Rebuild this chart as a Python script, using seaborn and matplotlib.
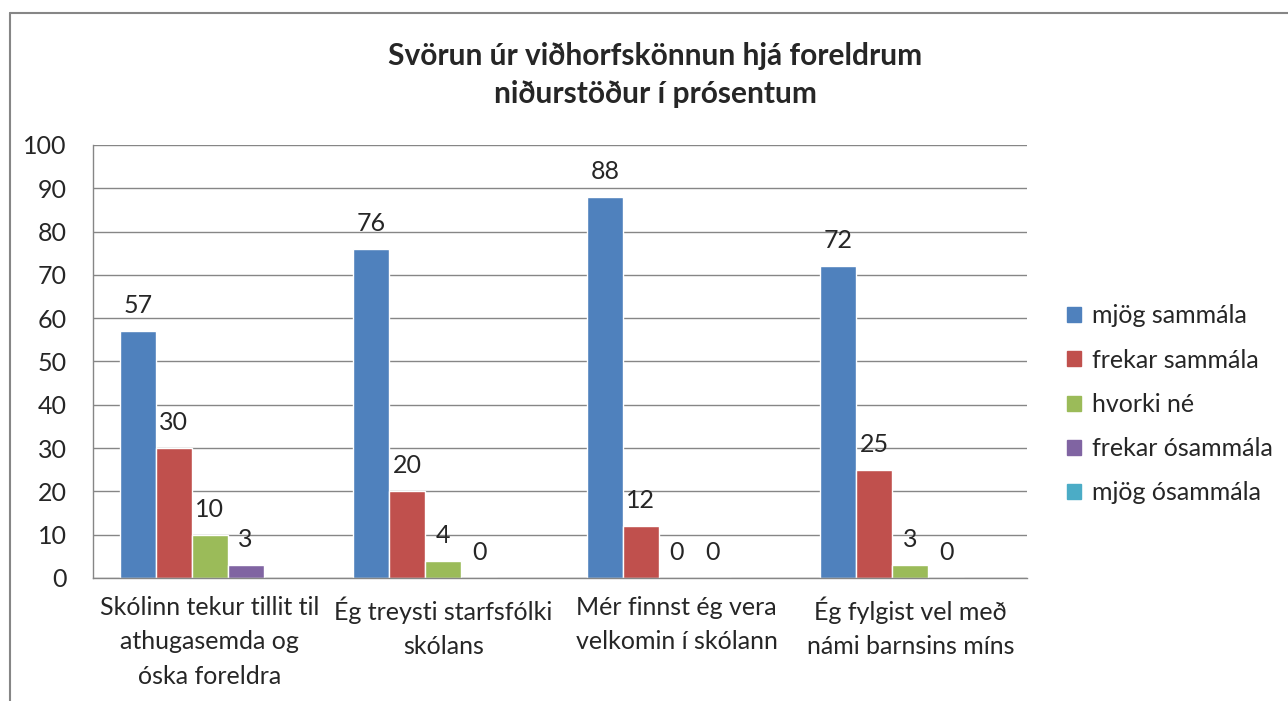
import matplotlib
matplotlib.use("Agg")
import matplotlib.pyplot as plt
import matplotlib.patches as mpatches
from matplotlib.lines import Line2D
import numpy as np
import pandas as pd
import seaborn as sns

categories = ["Skólinn tekur tillit til\nathugasemda og\nóska foreldra",
              "Ég treysti starfsfólki\nskólans",
              "Mér finnst ég vera\nvelkomin í skólann",
              "Ég fylgist vel með\nnámi barnsins míns"]
series = ["mjög sammála", "frekar sammála", "hvorki né",
          "frekar ósammála", "mjög ósammála"]
mjog_sammala = [57, 76, 88, 72]
frekar_sammala = [30, 20, 12, 25]
hvorki_ne = [10, 4, 0, 3]
frekar_osammala = [3, 0, 0, 0]
mjog_osammala = [np.nan, np.nan, np.nan, np.nan]
colors = ["#4F81BD", "#C0504D", "#9BBB59", "#8064A2", "#4BACC6"]
title = "Svörun úr viðhorfskönnun hjá foreldrum\nniðurstöður í prósentum"

values = [mjog_sammala, frekar_sammala, hvorki_ne, frekar_osammala, mjog_osammala]
rows = []
for s, vals in zip(series, values):
    for c, v in zip(categories, vals):
        rows.append({"cat": c, "series": s, "value": v})
df = pd.DataFrame(rows)

sns.set_style("white")
plt.rcParams['font.family'] = ['Lato', 'DejaVu Sans']
grid_col = "#868686"
fs = 18

fig = plt.figure(figsize=(12.88, 7.01), dpi=100)
ax = fig.add_axes([0.0722, 0.1755, 0.7252, 0.6177])

sns.barplot(data=df, x="cat", y="value", hue="series", hue_order=series,
            order=categories, palette=colors, width=0.77, ax=ax,
            saturation=1, legend=False, errorbar=None)

ax.set_ylim(0, 100)
ax.set_yticks(range(0, 101, 10))
ax.set_xlim(-0.5, 3.5)
ax.yaxis.grid(True, color=grid_col, linewidth=1)
ax.set_axisbelow(True)
for side in ["top", "right"]:
    ax.spines[side].set_visible(False)
for side in ["left", "bottom"]:
    ax.spines[side].set_color(grid_col)
    ax.spines[side].set_linewidth(1)
ax.tick_params(axis="y", length=0, pad=19, labelsize=fs)
ax.tick_params(axis="x", length=0, pad=13, labelsize=fs)
for lbl in ax.get_xticklabels():
    lbl.set_linespacing(1.6)
ax.set_xlabel("")
ax.set_ylabel("")

for cont, vals in zip(ax.containers[:4], values[:4]):
    ax.bar_label(cont, labels=[f"{v:g}" for v in vals], padding=10, fontsize=fs)

fig.text(0.5085, 0.893, title, ha="center", va="center", fontsize=21.5,
         fontweight="bold", linespacing=1.45)

handles = [mpatches.Patch(color=c, label=s) for c, s in zip(colors, series)]
fig.legend(handles=handles, loc="center left", bbox_to_anchor=(0.811, 0.423),
           frameon=False, fontsize=fs, handlelength=0.55, handleheight=0.55,
           handletextpad=0.45, labelspacing=0.85)

# outer chart frame (cut off at right and bottom)
fig.add_artist(Line2D([10 / 1288, 1.0], [1 - 13 / 701, 1 - 13 / 701],
                      transform=fig.transFigure, color=grid_col, linewidth=1.5))
fig.add_artist(Line2D([10 / 1288, 10 / 1288], [0.0, 1 - 13 / 701],
                      transform=fig.transFigure, color=grid_col, linewidth=1.5))

fig.savefig("out.png", dpi=100, facecolor="white")
